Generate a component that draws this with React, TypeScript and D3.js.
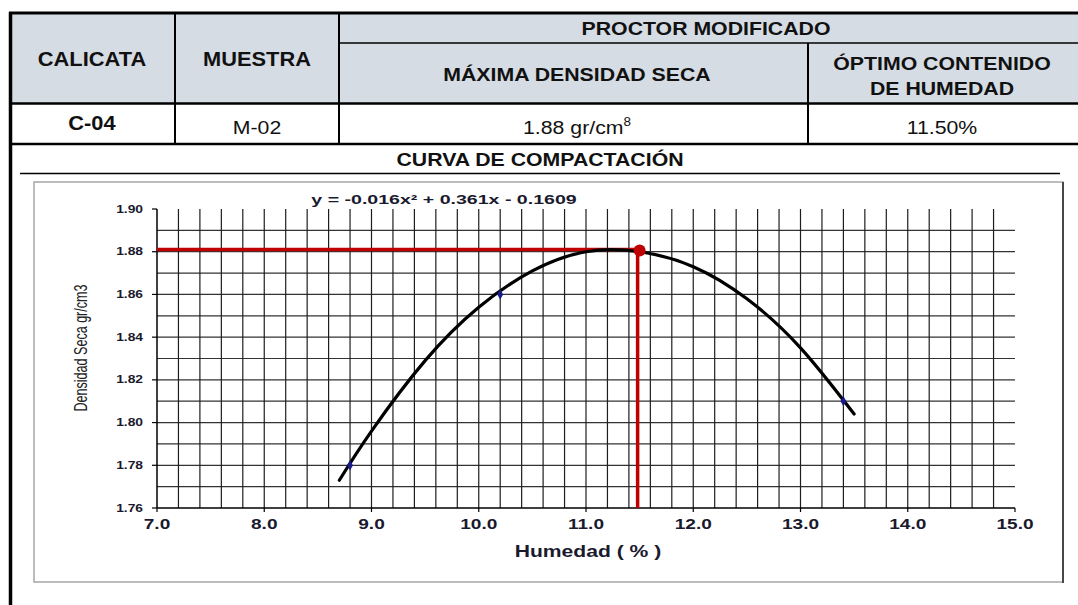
import React from 'react';
import * as d3 from 'd3';

// puntos del ensayo (humedad %, densidad seca)
const humedadPts = [8.8, 10.2, 13.4];
const densidadPts = [1.78, 1.86, 1.81];

// curva de compactacion
const curvaX = [8.7, 9.0, 9.5, 10.0, 10.5, 11.0, 11.5, 12.0, 12.5, 13.0, 13.5];
const curvaY = [1.773, 1.796, 1.829, 1.854, 1.871, 1.880, 1.880, 1.873, 1.858, 1.835, 1.804];

// optimo
const optimoX = 11.5;
const optimoY = 1.881;

const xTicks = [7, 8, 9, 10, 11, 12, 13, 14, 15];
const xTickLabels = ['7.0', '8.0', '9.0', '10.0', '11.0', '12.0', '13.0', '14.0', '15.0'];
const yTicks = [1.76, 1.78, 1.8, 1.82, 1.84, 1.86, 1.88, 1.9];
const yTickLabels = ['1.76', '1.78', '1.80', '1.82', '1.84', '1.86', '1.88', '1.90'];

const headers = ['CALICATA', 'MUESTRA'];
const rowValues = ['C-04', 'M-02', '1.88 gr/cm', '11.50%'];

const TABLE_FONT = "'Liberation Sans', Arial, sans-serif";

interface STextProps {
  x: number;
  y: number;
  sx?: number;
  size: number;
  bold?: boolean;
  anchor?: 'start' | 'middle' | 'end';
  fill?: string;
  family?: string;
  children: React.ReactNode;
}

const SText: React.FC<STextProps> = ({ x, y, sx = 1.12, size, bold, anchor = 'middle', fill = '#111', family = TABLE_FONT, children }) => (
  <text
    transform={`translate(${x},${y}) scale(${sx},1)`}
    textAnchor={anchor}
    fontSize={size}
    fontWeight={bold ? 'bold' : 'normal'}
    fontFamily={family}
    fill={fill}
  >
    {children}
  </text>
);

const App: React.FC = () => {
  const W = 1078;
  const H = 605;

  const x = d3.scaleLinear().domain([7, 15]).range([157, 1015]);
  const y = d3.scaleLinear().domain([1.76, 1.9]).range([508, 209]);

  const vGrid = d3.range(7.2, 14.81, 0.2);
  const hGrid = d3.range(1.77, 1.8951, 0.01);

  const curva = d3
    .line<number>()
    .x((d) => x(d))
    .y((_, i) => y(curvaY[i]))
    .curve(d3.curveNatural)(curvaX);

  const chartText = '#1a1a2e';

  return (
    <svg width={W} height={H} style={{ position: 'absolute', left: 0, top: 0, background: '#fff' }}>
      {/* tabla */}
      <rect x={10} y={13} width={W - 10} height={90} fill="#d6dce4" />
      <line x1={9} x2={W} y1={13} y2={13} stroke="#000" strokeWidth={3} />
      <line x1={10.5} x2={10.5} y1={12} y2={H} stroke="#000" strokeWidth={3.5} />
      <line x1={175} x2={175} y1={12} y2={144} stroke="#000" strokeWidth={2} />
      <line x1={339} x2={339} y1={12} y2={144} stroke="#000" strokeWidth={2} />
      <line x1={339} x2={W} y1={43} y2={43} stroke="#000" strokeWidth={1.5} />
      <line x1={808} x2={808} y1={43} y2={144} stroke="#000" strokeWidth={2} />
      <line x1={10} x2={W} y1={103.5} y2={103.5} stroke="#000" strokeWidth={2.5} />
      <line x1={10} x2={W} y1={144} y2={144} stroke="#000" strokeWidth={2.5} />
      <line x1={20} x2={1060} y1={173.5} y2={173.5} stroke="#000" strokeWidth={1.5} />

      <SText x={92} y={66} size={19.5} bold>{headers[0]}</SText>
      <SText x={257} y={66} size={19.5} bold>{headers[1]}</SText>
      <SText x={706} y={35} size={19} bold>PROCTOR MODIFICADO</SText>
      <SText x={577} y={81} size={19} bold>MÁXIMA DENSIDAD SECA</SText>
      <SText x={942} y={70} size={19} bold>ÓPTIMO CONTENIDO</SText>
      <SText x={942} y={95} size={19} bold>DE HUMEDAD</SText>

      <SText x={92} y={130} size={19.5} bold>{rowValues[0]}</SText>
      <SText x={257} y={134} size={19}>{rowValues[1]}</SText>
      <SText x={577} y={134} size={19}>
        {rowValues[2]}
        <tspan fontSize={12} dy={-8}>8</tspan>
      </SText>
      <SText x={942} y={134} size={19}>{rowValues[3]}</SText>
      <SText x={540} y={166} size={19} bold>CURVA DE COMPACTACIÓN</SText>

      {/* marco del grafico */}
      <rect x={34} y={182} width={1029} height={400} fill="#fff" stroke="#a6a6a6" strokeWidth={1.5} />
      <line x1={1063} x2={1063} y1={182} y2={583} stroke="#222" strokeWidth={1.5} />

      {/* cuadricula */}
      {hGrid.map((v) => (
        <line key={'h' + v} x1={x(7)} x2={x(15)} y1={y(v)} y2={y(v)} stroke="#333" strokeWidth={1.2} />
      ))}
      {vGrid.map((v) => (
        <line key={'v' + v} x1={x(v)} x2={x(v)} y1={y(1.9)} y2={y(1.76)} stroke="#1e1e1e" strokeWidth={1.2} />
      ))}

      {/* ejes */}
      <line x1={x(7)} x2={x(7)} y1={y(1.9)} y2={y(1.76)} stroke="#000" strokeWidth={1.5} />
      <line x1={x(7)} x2={x(15)} y1={y(1.76)} y2={y(1.76)} stroke="#000" strokeWidth={1.5} />
      {yTicks.map((t, i) => (
        <g key={'yt' + t}>
          <line x1={x(7) - 5} x2={x(7)} y1={y(t)} y2={y(t)} stroke="#000" strokeWidth={1.2} />
          <SText x={143} y={y(t) + 3.5} size={10} bold sx={1.38} anchor="end" fill={chartText}>
            {yTickLabels[i]}
          </SText>
        </g>
      ))}
      {xTicks.map((t, i) => (
        <g key={'xt' + t}>
          <line x1={x(t)} x2={x(t)} y1={y(1.76)} y2={y(1.76) + 4} stroke="#000" strokeWidth={1.2} />
          <SText x={x(t)} y={529} size={14} bold sx={1.36} fill={chartText}>
            {xTickLabels[i]}
          </SText>
        </g>
      ))}

      {/* titulos */}
      <SText x={588} y={557} size={16} bold sx={1.32} fill={chartText}>
        Humedad ( % )
      </SText>
      <text
        transform={`translate(87,348) rotate(-90)`}
        textAnchor="middle"
        fontSize={19}
        textLength={127}
        lengthAdjust="spacingAndGlyphs"
        fontFamily="'Liberation Sans', Arial, sans-serif"
        fill="#222"
      >
        Densidad Seca gr/cm3
      </text>
      <SText x={444} y={204} size={13.5} bold sx={1.45} fill={chartText}>
        y = -0.016x² + 0.361x - 0.1609
      </SText>

      {/* lineas del optimo */}
      <line x1={x(7)} x2={x(optimoX)} y1={y(optimoY)} y2={y(optimoY)} stroke="#c00000" strokeWidth={3.5} />
      <line x1={x(optimoX) - 2} x2={x(optimoX) - 2} y1={y(optimoY)} y2={y(1.76)} stroke="#c00000" strokeWidth={3.5} />

      {/* curva */}
      <path d={curva ?? ''} fill="none" stroke="#000" strokeWidth={3.2} strokeLinecap="round" />

      {/* puntos */}
      {humedadPts.map((h, i) => (
        <path
          key={'p' + i}
          d={d3.symbol(d3.symbolDiamond, 30)() ?? ''}
          transform={`translate(${x(h)},${y(densidadPts[i])})`}
          fill="#1a1a8c"
        />
      ))}
      <circle cx={x(optimoX)} cy={y(optimoY) + 1} r={6} fill="#c00000" />
    </svg>
  );
};

export default App;
